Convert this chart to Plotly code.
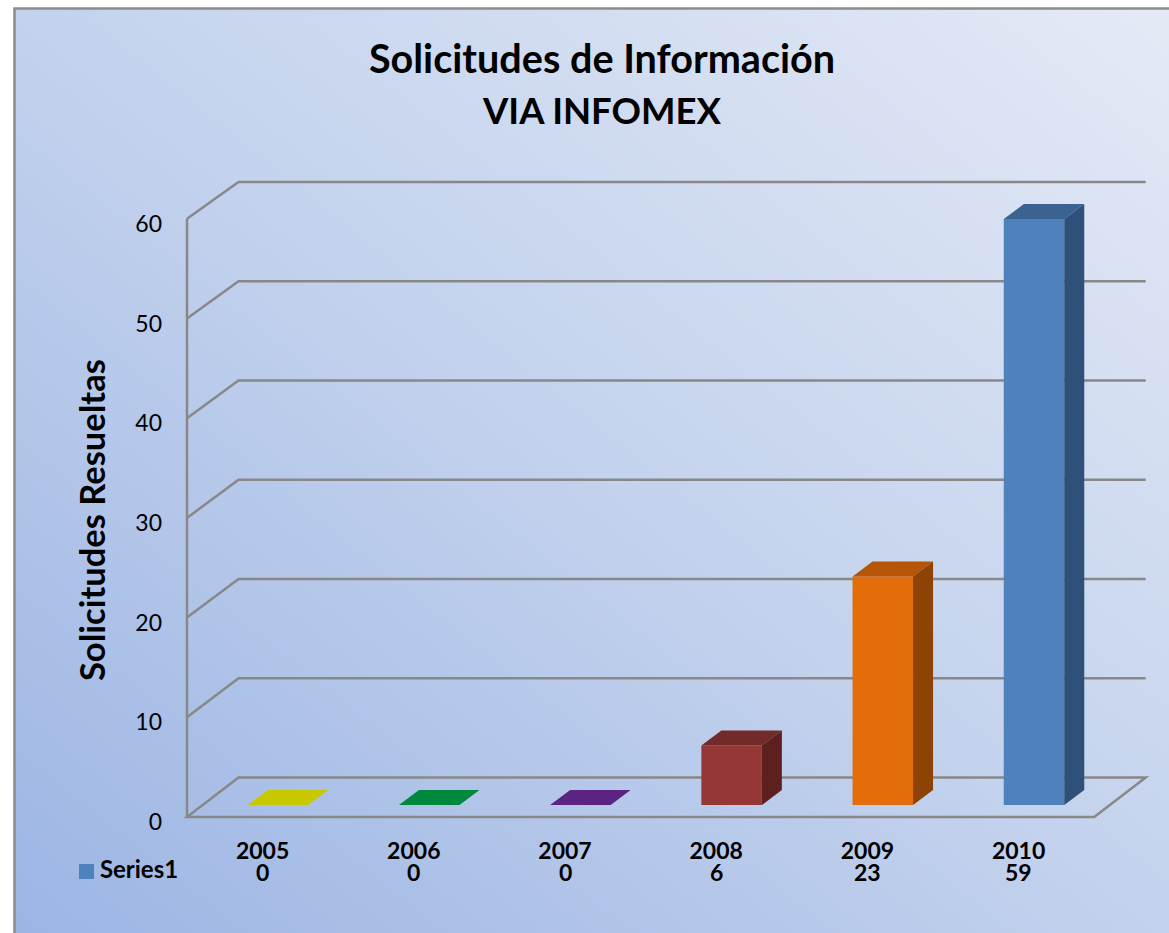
import base64
import plotly.graph_objects as go

# ---- data ----
years = ["2005", "2006", "2007", "2008", "2009", "2010"]
values = [0, 0, 0, 6, 23, 59]
y_ticks = [0, 10, 20, 30, 40, 50, 60]
series_name = "Series1"
front_colors = ["#C8C800", "#00883E", "#5B2483", "#953735", "#E46C0A", "#4F81BD"]
top_colors = ["#C8C800", "#00883E", "#5B2483", "#722B28", "#B45507", "#3B6290"]
side_colors = ["#C8C800", "#00883E", "#5B2483", "#5E201E", "#8C4305", "#2F5179"]

# ---- geometry of the oblique projection (axis units) ----
W, H = 1169, 933
PX_X = 151.2      # pixels per category
PX_Y = 9.97       # pixels per value unit
X0_PX, Y0_PX = 262.6, 817.0
x_range = [(0 - X0_PX) / PX_X, (W - X0_PX) / PX_X]
y_range = [(Y0_PX - H) / PX_Y, Y0_PX / PX_Y]


def px_x(p):
    return (p - X0_PX) / PX_X


def px_y(p):
    return (Y0_PX - p) / PX_Y


def wall_dy(t):
    return 3.96 - 0.0043 * t


wall_left = -0.5
wall_right = 5.5
wall_dx = 51.5 / PX_X
bar_shift = 15.4 / PX_X
bar_w = 60.5 / PX_X
bar_base = 12 / PX_Y
bar_scale = 0.996
bar_dx = 20 / PX_X
bar_dy = 15 / PX_Y
GRID = "#888888"

bg_svg = (
    '<svg xmlns="http://www.w3.org/2000/svg" width="1155" height="925" preserveAspectRatio="none">'
    '<defs><linearGradient id="g" x1="0" y1="1" x2="1" y2="0">'
    '<stop offset="0" stop-color="#9CB5E4"/><stop offset="0.5" stop-color="#C3D2ED"/>'
    '<stop offset="1" stop-color="#E4EAF6"/></linearGradient></defs>'
    '<rect width="1155" height="925" fill="url(#g)"/></svg>'
)
bg_uri = "data:image/svg+xml;base64," + base64.b64encode(bg_svg.encode()).decode()

fig = go.Figure()

# front faces
fig.add_trace(go.Bar(
    x=[i + bar_shift for i in range(len(years))],
    y=[v * bar_scale for v in values],
    base=bar_base,
    width=bar_w,
    marker=dict(color=front_colors, line=dict(width=0)),
    customdata=years,
    hovertemplate="%{customdata}: %{y:.0f}<extra></extra>",
    showlegend=False,
))

# top and side faces
for i, v in enumerate(values):
    l = i + bar_shift - bar_w / 2
    r = i + bar_shift + bar_w / 2
    top = bar_base + v * bar_scale
    fig.add_trace(go.Scatter(
        x=[l, r, r + bar_dx, l + bar_dx, l],
        y=[top, top, top + bar_dy, top + bar_dy, top],
        fill="toself", fillcolor=top_colors[i], mode="none",
        hoverinfo="skip", showlegend=False))
    if v > 0:
        fig.add_trace(go.Scatter(
            x=[r, r + bar_dx, r + bar_dx, r, r],
            y=[bar_base, bar_base + bar_dy, top + bar_dy, top, bar_base],
            fill="toself", fillcolor=side_colors[i], mode="none",
            hoverinfo="skip", showlegend=False))

# legend key beside the data-table row
fig.add_trace(go.Scatter(
    x=[px_x(86.5)], y=[px_y(871.5)], mode="markers+text", name=series_name,
    text=[f"<b>\u2009{series_name}</b>"], textposition="middle right",
    textfont=dict(family="Lato", size=24, color="black"),
    marker=dict(symbol="square", size=15, color="#4F81BD"),
    hoverinfo="skip", showlegend=False))

# walls and floor
shapes = []
back_l = wall_left + wall_dx
back_r = wall_right + wall_dx
for t in y_ticks[1:]:
    shapes.append(dict(
        type="path", xref="x", yref="y", layer="below",
        path=f"M {wall_left} {t} L {back_l} {t + wall_dy(t)} L {back_r} {t + wall_dy(t)}",
        line=dict(color=GRID, width=2.5)))
shapes.append(dict(
    type="path", xref="x", yref="y", layer="below",
    path=(f"M {wall_left} 0 L {back_l} {wall_dy(0)} L {back_r} {wall_dy(0)} "
          f"L {wall_right} 0 Z"),
    line=dict(color=GRID, width=2.5)))
shapes.append(dict(
    type="line", xref="x", yref="y", layer="below",
    x0=wall_left, x1=wall_left, y0=0, y1=y_ticks[-1],
    line=dict(color=GRID, width=2.5)))
# outer frame (runs off the right and bottom of the page)
shapes.append(dict(
    type="rect", xref="paper", yref="paper", layer="below",
    x0=14.5 / W, x1=1.01, y0=-0.01, y1=1 - 8.5 / H,
    line=dict(color="#8C8C8C", width=2.5)))

# values under the years, and the rotated axis title
annotations = [
    dict(x=i, y=px_y(872), xref="x", yref="y", text=f"<b>{v}</b>",
         showarrow=False, font=dict(family="Lato", size=23, color="black"))
    for i, v in enumerate(values)
]
annotations.append(dict(
    x=px_x(91), y=px_y(520), xref="x", yref="y", text="<b>Solicitudes Resueltas</b>",
    textangle=-90, showarrow=False, font=dict(family="Lato", size=34.5, color="black")))

fig.update_layout(
    width=W, height=H,
    margin=dict(l=0, r=0, t=0, b=0),
    paper_bgcolor="white",
    plot_bgcolor="rgba(0,0,0,0)",
    font=dict(family="Lato", color="black"),
    title=dict(
        text='<b>Solicitudes de Información<br><span style="font-size:36.5px">VIA INFOMEX</span></b>',
        font=dict(family="Lato", size=39.6, color="black"),
        x=602 / W, xanchor="center", y=1 - 73 / H, yanchor="middle"),
    barmode="overlay",
    images=[dict(source=bg_uri, xref="paper", yref="paper", x=14 / W, y=1 - 8 / H,
                 sizex=1155 / W, sizey=925 / H, sizing="stretch",
                 xanchor="left", yanchor="top", layer="below")],
    shapes=shapes,
    annotations=annotations,
    xaxis=dict(
        range=x_range, tickmode="array", tickvals=list(range(len(years))),
        ticktext=[f"<b>{y}</b>" for y in years], showgrid=False, zeroline=False,
        showline=False, ticks="", anchor="free", position=1 - Y0_PX / H,
        ticklabelstandoff=18, tickfont=dict(family="Lato", size=23, color="black")),
    yaxis=dict(
        range=y_range, tickmode="array", tickvals=y_ticks, showgrid=False,
        zeroline=False, showline=False, ticks="", anchor="free",
        position=187 / W, ticklabelstandoff=25, ticklabelshift=5,
        tickfont=dict(family="Lato", size=23, color="black")),
    showlegend=False,
)

fig.write_html("out.html", post_script="document.body.style.margin='0';",
               config=dict(displayModeBar=False))
